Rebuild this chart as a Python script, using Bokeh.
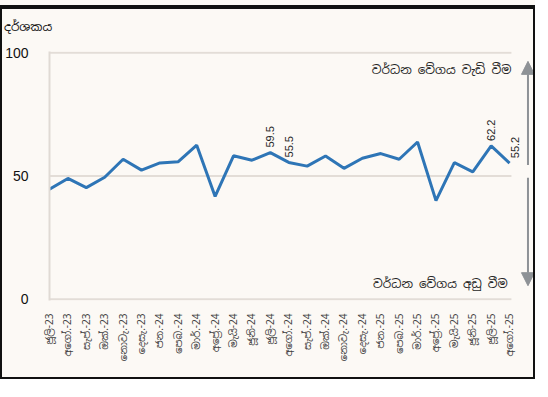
from math import pi
from bokeh.plotting import figure
from bokeh.layouts import column
from bokeh.models import Range1d, FixedTicker, Arrow, NormalHead, ColumnDataSource, Label, Div
from bokeh.core.properties import value
from bokeh.embed import file_html
from bokeh.resources import INLINE

months = ["ජූලි-23", "අගෝ.-23", "සැප්.-23", "ඔක්.-23", "නොවැ.-23", "දෙසැ.-23",
          "ජන.-24", "පෙබ.-24", "මාර්.-24", "අප්‍රේ.-24", "මැයි-24", "ජූනි-24",
          "ජූලි-24", "අගෝ.-24", "සැප්.-24", "ඔක්.-24", "නොවැ.-24", "දෙසැ.-24",
          "ජන.-25", "පෙබ.-25", "මාර්.-25", "අප්‍රේ.-25", "මැයි-25", "ජූනි-25",
          "ජූලි-25", "අගෝ.-25"]
index_values = [44.6, 49.0, 45.3, 49.5, 56.8, 52.4, 55.3, 55.8, 62.5, 41.7, 58.2, 56.4,
                59.5, 55.5, 54.0, 58.1, 53.1, 57.2, 59.1, 56.8, 63.8, 40.0, 55.4, 51.7,
                62.2, 55.2]
labelled_idx = [12, 13, 24, 25]
label_xoff = [0, 0, 0, 5]
y_ticks = [0, 50, 100]
y_title = "දර්ශකය"
up_text = "වර්ධන වේගය වැඩි වීම"
down_text = "වර්ධන වේගය අඩු වීම"

FONT = "Noto Sans Sinhala, Iskoola Pota, Noto Sans, sans-serif"
BG = "#fcf9f5"
x = list(range(len(months)))

title_div = Div(text=f'<span style="position:relative;top:4px;left:-3px">{y_title}</span>',
                width=200, height=18,
                styles={"font-size": "12px", "font-family": FONT, "color": "#111111",
                        "line-height": "18px"})

fig = figure(width=531, height=340, output_backend="svg", toolbar_location=None,
             x_range=Range1d(0, 26.3), y_range=Range1d(-0.5, 100.5),
             min_border_left=47, min_border_right=0, min_border_top=14, min_border_bottom=77,
             background_fill_color=BG, border_fill_color=BG, outline_line_color=None)

fig.xgrid.visible = False
fig.ygrid.visible = False

# grid lines (stop at the last month)
fig.segment(x0=[0] * len(y_ticks), x1=[len(months) - 0.9] * len(y_ticks), y0=y_ticks, y1=y_ticks,
            line_color="#e3ddd7", line_width=2)

fig.line(x, index_values, line_color="#2e75b6", line_width=3)

src = ColumnDataSource(dict(x=[x[i] for i in labelled_idx],
                            y=[index_values[i] for i in labelled_idx],
                            t=[f"{index_values[i]:.1f}" for i in labelled_idx],
                            xo=label_xoff))
fig.text(x="x", y="y", text="t", source=src, angle=pi / 2, text_align="left",
         text_baseline="middle", y_offset=-5, x_offset="xo", text_font_size="11px",
         text_color="#262626", text_font=value("Liberation Sans"))

# axes
fig.yaxis.ticker = FixedTicker(ticks=y_ticks)
fig.yaxis.axis_line_color = "#e0dad4"
fig.yaxis.axis_line_width = 2
fig.yaxis.major_tick_line_color = None
fig.yaxis.minor_tick_line_color = None
fig.yaxis.major_label_text_font_size = "14px"
fig.yaxis.major_label_text_color = "#111111"
fig.yaxis.major_label_text_font = "Liberation Sans"
fig.yaxis.major_label_standoff = 15

fig.xaxis.ticker = FixedTicker(ticks=x)
fig.xaxis.major_label_overrides = {i: m for i, m in enumerate(months)}
fig.xaxis.major_label_orientation = pi / 2
fig.xaxis.axis_line_color = None
fig.xaxis.major_tick_line_color = None
fig.xaxis.minor_tick_line_color = None
fig.xaxis.major_label_text_font_size = "10px"
fig.xaxis.major_label_text_color = "#404040"
fig.xaxis.major_label_text_font = FONT
fig.xaxis.major_label_standoff = 7

# arrows and notes
gray = "#8e9296"
fig.add_layout(Arrow(x_start=26.0, y_start=54.5, x_end=26.0, y_end=96.5, line_color=gray, line_width=2,
                     end=NormalHead(size=13, fill_color=gray, line_color=gray)))
fig.add_layout(Arrow(x_start=26.0, y_start=49.3, x_end=26.0, y_end=5.5, line_color=gray, line_width=2,
                     end=NormalHead(size=13, fill_color=gray, line_color=gray)))
fig.add_layout(Label(x=25.1, y=93, text=up_text, text_align="right", text_baseline="middle",
                     text_font_size="12px", text_font=FONT, text_color="#262626"))
fig.add_layout(Label(x=24.9, y=6, text=down_text, text_align="right", text_baseline="middle",
                     text_font_size="12px", text_font=FONT, text_color="#262626"))

boxed = column(title_div, fig, spacing=0,
               styles={"border": "2px solid #111111", "background-color": BG})
top_pad = Div(text="", width=535, height=7, margin=(0, 0, 0, 0),
              styles={"background-color": BG, "border-bottom": "2px solid #111111",
                      "box-sizing": "border-box"})
p = column(top_pad, boxed, spacing=0, styles={"background-color": BG})

open("out.html", "w").write(file_html(p, INLINE))
